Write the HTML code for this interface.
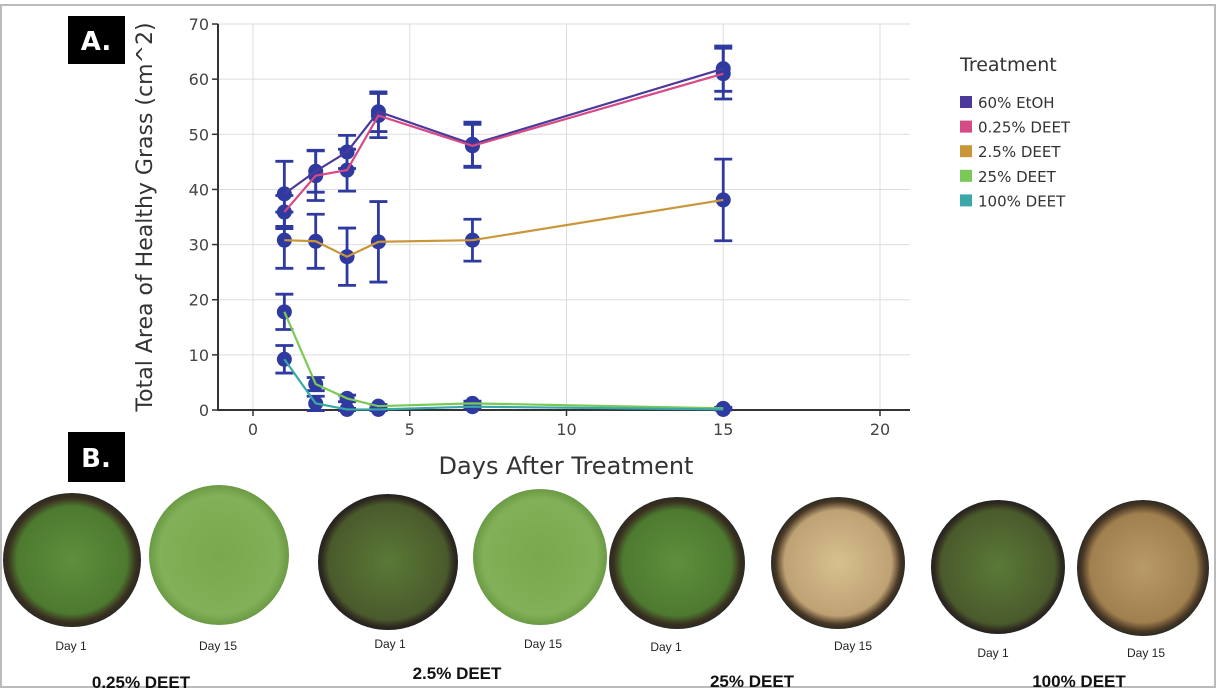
<!DOCTYPE html>
<html><head><meta charset="utf-8"><style>
body{margin:0;background:#fff;}
svg text{font-family:"DejaVu Sans","Liberation Sans",sans-serif;}
.lab{font-family:"Liberation Sans",Arial,sans-serif;}
</style></head><body>
<svg id="fig" width="1216" height="688" viewBox="0 0 1216 688" xmlns="http://www.w3.org/2000/svg">
<defs>
<radialGradient id="gGreen" cx="50%" cy="50%" r="50%"><stop offset="0" stop-color="#5f8f3c"/><stop offset="0.8" stop-color="#4d7a30"/><stop offset="0.93" stop-color="#3a3020"/><stop offset="1" stop-color="#2a2a22"/></radialGradient>
<radialGradient id="gLush" cx="50%" cy="50%" r="50%"><stop offset="0" stop-color="#7aa84c"/><stop offset="0.85" stop-color="#82b058"/><stop offset="1" stop-color="#6a9a44"/></radialGradient>
<radialGradient id="gDark" cx="50%" cy="50%" r="50%"><stop offset="0" stop-color="#5a7a36"/><stop offset="0.85" stop-color="#4a5a2c"/><stop offset="0.95" stop-color="#2f2a20"/><stop offset="1" stop-color="#222"/></radialGradient>
<radialGradient id="gDead" cx="50%" cy="50%" r="50%"><stop offset="0" stop-color="#d8c08e"/><stop offset="0.8" stop-color="#bea274"/><stop offset="0.93" stop-color="#4a3826"/><stop offset="1" stop-color="#2a2a22"/></radialGradient>
<radialGradient id="gDead2" cx="50%" cy="50%" r="50%"><stop offset="0" stop-color="#b89a68"/><stop offset="0.8" stop-color="#a0804e"/><stop offset="0.93" stop-color="#4a3826"/><stop offset="1" stop-color="#2a2a22"/></radialGradient>
</defs>
<rect x="1" y="5" width="1214" height="682" fill="none" stroke="#bbb" stroke-width="2"/>
<g id="grid"></g>
<g id="axes"></g>
<g id="series"></g>
<rect x="68" y="16" width="57" height="48" fill="#000"/>
<text x="96" y="50" font-size="26" fill="#fff" text-anchor="middle" font-weight="bold">A.</text>
<rect x="68" y="432" width="57" height="50" fill="#000"/>
<text x="96" y="467" font-size="26" fill="#fff" text-anchor="middle" font-weight="bold">B.</text>
<text transform="translate(152,217) rotate(-90)" font-size="22" fill="#333" text-anchor="middle">Total Area of Healthy Grass (cm^2)</text>
<text x="566" y="474" font-size="24" fill="#333" text-anchor="middle">Days After Treatment</text>
<g id="legend">
<text x="960" y="71" font-size="19" fill="#333">Treatment</text>
</g>
<g id="photos">
<ellipse cx="72" cy="560" rx="69" ry="67" fill="url(#gGreen)"/>
<ellipse cx="219" cy="555" rx="70" ry="70" fill="url(#gLush)"/>
<ellipse cx="388" cy="562" rx="70" ry="68" fill="url(#gDark)"/>
<ellipse cx="540" cy="557" rx="67" ry="68" fill="url(#gLush)"/>
<ellipse cx="677" cy="563" rx="68" ry="66" fill="url(#gGreen)"/>
<ellipse cx="838" cy="563" rx="67" ry="66" fill="url(#gDead)"/>
<ellipse cx="998" cy="567" rx="67" ry="67" fill="url(#gDark)"/>
<ellipse cx="1143" cy="568" rx="66" ry="68" fill="url(#gDead2)"/>
<g class="lab" font-size="12" fill="#222" text-anchor="middle">
<text x="71" y="650" class="lab">Day 1</text>
<text x="218" y="650" class="lab">Day 15</text>
<text x="390" y="648" class="lab">Day 1</text>
<text x="543" y="648" class="lab">Day 15</text>
<text x="666" y="651" class="lab">Day 1</text>
<text x="853" y="650" class="lab">Day 15</text>
<text x="993" y="657" class="lab">Day 1</text>
<text x="1146" y="657" class="lab">Day 15</text>
</g>
<g font-size="17" font-weight="bold" fill="#111" text-anchor="middle">
<text x="141" y="688" class="lab">0.25% DEET</text>
<text x="457" y="679" class="lab">2.5% DEET</text>
<text x="752" y="687" class="lab">25% DEET</text>
<text x="1079" y="687" class="lab">100% DEET</text>
</g>
</g>
</svg>
<script>
const days = [1, 2, 3, 4, 7, 15];
const seriesNames = ["60% EtOH", "0.25% DEET", "2.5% DEET", "25% DEET", "100% DEET"];
const seriesColors = ["#4b3a9a", "#d64a86", "#c9963a", "#7ac957", "#3aa8a8"];
const etohVals = [39.2, 43.3, 46.8, 54.1, 48.2, 61.9];
const etohErr = [5.9, 3.8, 3.0, 3.6, 4.0, 4.1];
const d025Vals = [35.9, 42.5, 43.5, 53.4, 47.9, 61.0];
const d025Err = [3.0, 4.5, 3.8, 4.0, 3.9, 4.6];
const d25Vals = [30.8, 30.6, 27.8, 30.5, 30.8, 38.1];
const d25Err = [5.1, 4.9, 5.2, 7.3, 3.8, 7.4];
const d250Vals = [17.8, 4.7, 2.1, 0.7, 1.2, 0.3];
const d250Err = [3.2, 1.2, 0.6, 0.3, 0.4, 0.2];
const d1000Vals = [9.2, 1.2, 0.1, 0.1, 0.6, 0.1];
const d1000Err = [2.5, 1.3, 0.2, 0.2, 0.3, 0.1];
const xTicks = [0, 5, 10, 15, 20];
const yTicks = [0, 10, 20, 30, 40, 50, 60, 70];

const NS = "http://www.w3.org/2000/svg";
const X0 = 253, XS = 31.35, Y0 = 410, YS = 5.514;
const xs = v => X0 + v * XS;
const ys = v => Y0 - v * YS;
const PL = 218, PR = 910, PT = 24;
function mk(tag, attrs, parent) { const e = document.createElementNS(NS, tag); for (const k in attrs) e.setAttribute(k, attrs[k]); parent.appendChild(e); return e; }
const grid = document.getElementById('grid'), axes = document.getElementById('axes'), ser = document.getElementById('series'), leg = document.getElementById('legend');
xTicks.forEach(t => {
  const l = mk('line', {x1: xs(t), x2: xs(t), y1: PT, y2: Y0, stroke: '#ddd', 'stroke-width': 1}, grid);
  
  
  const tk = mk('line', {x1: xs(t), x2: xs(t), y1: Y0, y2: Y0 + 6, stroke: '#333', 'stroke-width': 1.5}, axes);
  
  
  const tx = mk('text', {x: xs(t), y: Y0 + 25, 'font-size': 16, fill: '#444', 'text-anchor': 'middle'}, axes);
  tx.textContent = t;
  
  
});
yTicks.forEach(t => {
  const l = mk('line', {x1: PL, x2: PR, y1: ys(t), y2: ys(t), stroke: '#ddd', 'stroke-width': 1}, grid);
  
  
  const tk = mk('line', {x1: PL - 6, x2: PL, y1: ys(t), y2: ys(t), stroke: '#333', 'stroke-width': 1.5}, axes);
  
  
  const tx = mk('text', {x: PL - 9, y: ys(t) + 6, 'font-size': 16, fill: '#444', 'text-anchor': 'end'}, axes);
  tx.textContent = t;
  
  
});
const ax = mk('path', {d: `M${PL},${PT} L${PL},${Y0} L${PR},${Y0}`, fill: 'none', stroke: '#333', 'stroke-width': 2}, axes);



const allVals = [etohVals, d025Vals, d25Vals, d250Vals, d1000Vals];
const allErr = [etohErr, d025Err, d25Err, d250Err, d1000Err];
const ebColor = '#2f3aa0';
allVals.forEach((vals, si) => {
  const g = mk('g', {}, ser);
  
  
  vals.forEach((v, i) => {
    const e = allErr[si][i], x = xs(days[i]);
    const eb = mk('path', {d: `M${x},${ys(v + e)} L${x},${ys(v - e)} M${x - 9},${ys(v + e)} L${x + 9},${ys(v + e)} M${x - 9},${ys(v - e)} L${x + 9},${ys(v - e)}`, stroke: ebColor, 'stroke-width': 2.8, fill: 'none'}, g);
    
    
  });
  vals.forEach((v, i) => {
    const c = mk('circle', {cx: xs(days[i]), cy: ys(v), r: 7.5, fill: ebColor}, g);
    
    
  });
});
allVals.forEach((vals, si) => {
  const pl = mk('polyline', {points: vals.map((v, i) => xs(days[i]) + ',' + ys(v)).join(' '), fill: 'none', stroke: seriesColors[si], 'stroke-width': 2.2}, ser);
  
  
});
seriesNames.forEach((n, i) => {
  const y = 102 + i * 24.6;
  const r = mk('rect', {x: 960, y: y - 6, width: 12, height: 12, fill: seriesColors[i]}, leg);
  
  
  const t = mk('text', {x: 978, y: y + 6, 'font-size': 15, fill: '#333'}, leg);
  t.textContent = n;
  
  
});
</script>
</body></html>
